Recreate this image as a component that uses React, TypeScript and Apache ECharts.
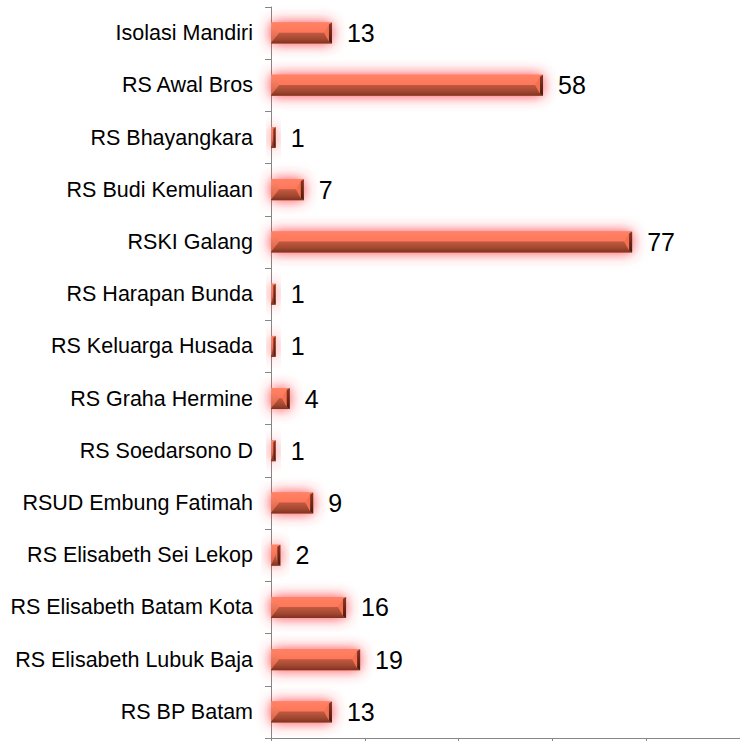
import React, { useEffect, useRef } from "react";
import * as echarts from "echarts";

const categories = [
  "Isolasi Mandiri",
  "RS Awal Bros",
  "RS Bhayangkara",
  "RS Budi Kemuliaan",
  "RSKI Galang",
  "RS Harapan Bunda",
  "RS Keluarga Husada",
  "RS Graha Hermine",
  "RS Soedarsono D",
  "RSUD Embung Fatimah",
  "RS Elisabeth Sei Lekop",
  "RS Elisabeth Batam Kota",
  "RS Elisabeth Lubuk Baja",
  "RS BP Batam",
];

const values = [13, 58, 1, 7, 77, 1, 1, 4, 1, 9, 2, 16, 19, 13];

const xMin = 0;
const xMax = 100;
const xInterval = 20;

const BAR_H = 21;

export default function App() {
  const ref = useRef<HTMLDivElement>(null);

  useEffect(() => {
    if (!ref.current) return;
    const chart = echarts.init(ref.current, undefined, { renderer: "svg" });
    const axisColor = "#868686";
    const font = "'Liberation Sans', Arial, Helvetica, sans-serif";

    const renderBevel = (params: any, api: any) => {
      const idx = api.value(0);
      const val = api.value(1);
      const p0 = api.coord([0, idx]);
      const p1 = api.coord([val, idx]);
      const x0 = p0[0];
      const x1 = p1[0];
      const w = x1 - x0;
      const y0 = p0[1] - BAR_H / 2;
      const y1 = y0 + BAR_H;
      const b = Math.min(8, w / 2);
      const bx = Math.min(3, w / 2);
      const ym = y0 + BAR_H * 0.48;
      return {
        type: "group",
        children: [
          {
            type: "polygon",
            shape: { points: [[x0, y0], [x1, y0], [x1 - bx, y0 + 2], [x1 - b, ym], [x0 + b, ym], [x0, y0 + 1]] },
            style: {
              fill: new echarts.graphic.LinearGradient(0, 0, 0, 1, [
                { offset: 0, color: "#ff8264" },
                { offset: 1, color: "#ff765a" },
              ]),
            },
          },
          {
            type: "polygon",
            shape: { points: [[x0, y1], [x1, y1], [x1 - bx, y1 - 2], [x1 - b, ym], [x0 + b, ym], [x0, y1 - 1]] },
            style: {
              fill: new echarts.graphic.LinearGradient(0, 0, 0, 1, [
                { offset: 0, color: "#c05a42" },
                { offset: 0.6, color: "#a2472f" },
                { offset: 1, color: "#7c3222" },
              ]),
            },
          },
          {
            type: "polygon",
            shape: { points: [[x0, y0 + 1], [x0 + b, ym], [x0, y1 - 1]] },
            style: {
              fill: new echarts.graphic.LinearGradient(0, 0, 0, 1, [
                { offset: 0, color: "#ff8a6c" },
                { offset: 1, color: "#d86247" },
              ]),
            },
          },
          {
            type: "polygon",
            shape: { points: [[x1, y0], [x1 - bx, y0 + 2], [x1 - bx, y1 - 2], [x1, y1]] },
            style: {
              fill: new echarts.graphic.LinearGradient(0, 0, 0, 1, [
                { offset: 0, color: "#8a3626" },
                { offset: 1, color: "#4a1a10" },
              ]),
            },
          },
        ],
      };
    };

    chart.setOption({
      animation: false,
      backgroundColor: "#ffffff",
      grid: { left: 271, top: 7, width: 471, bottom: 3, containLabel: false },
      xAxis: {
        type: "value",
        min: xMin,
        max: xMax,
        interval: xInterval,
        axisLine: { show: true, lineStyle: { color: axisColor, width: 1 } },
        axisTick: { show: true, length: 6, lineStyle: { color: axisColor } },
        axisLabel: { show: false },
        splitLine: { show: false },
      },
      yAxis: {
        type: "category",
        data: categories,
        inverse: true,
        axisLine: { show: true, lineStyle: { color: axisColor, width: 1 } },
        axisTick: { show: true, length: 6, lineStyle: { color: axisColor } },
        axisLabel: {
          color: "#000",
          fontSize: 21.5,
          fontFamily: font,
          margin: 18,
        },
      },
      series: [
        {
          type: "bar",
          data: values,
          barWidth: BAR_H,
          itemStyle: {
            color: "#f5704f",
            shadowBlur: 14,
            shadowColor: "rgba(255, 50, 60, 0.95)",
          },
          label: {
            show: true,
            position: "right",
            distance: 15,
            color: "#000",
            fontSize: 25,
            fontFamily: font,
          },
          z: 2,
        },
        {
          type: "custom",
          data: values.map((v, i) => [i, v]),
          encode: { x: 1, y: 0 },
          renderItem: renderBevel,
          z: 3,
          silent: true,
        },
      ],
    });
    return () => chart.dispose();
  }, []);

  return (
    <div
      ref={ref}
      style={{ position: "fixed", left: 0, top: 0, width: 740, height: 741 }}
    />
  );
}
